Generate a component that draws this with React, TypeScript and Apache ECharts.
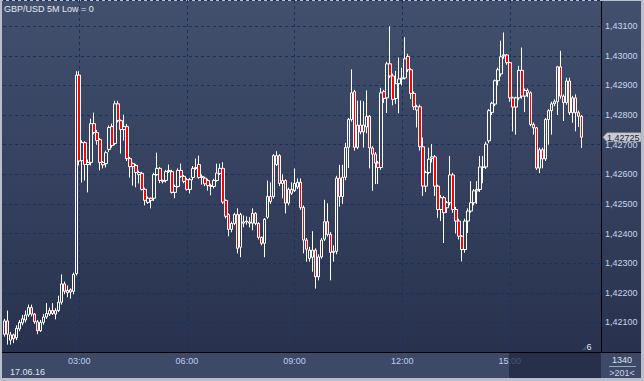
import React, { useEffect, useRef } from 'react';
import * as echarts from 'echarts';

// ---- data (5-minute OHLC, GBP/USD, 17.06.16) ----
const openPrices = [
  1.42060, 1.42105, 1.42040, 1.42058, 1.42048, 1.42078, 1.42098, 1.42108, 1.42125, 1.42150,
  1.42128, 1.42102, 1.42072, 1.42100, 1.42118, 1.42128, 1.42140, 1.42128, 1.42140, 1.42168,
  1.42230, 1.42200, 1.42210, 1.42205, 1.42265, 1.42935, 1.42646, 1.42707, 1.42633, 1.42640,
  1.42771, 1.42741, 1.42717, 1.42640, 1.42636, 1.42684, 1.42761, 1.42704, 1.42838, 1.42781,
  1.42751, 1.42761, 1.42653, 1.42636, 1.42630, 1.42599, 1.42603, 1.42549, 1.42505, 1.42519,
  1.42519, 1.42599, 1.42620, 1.42579, 1.42579, 1.42609, 1.42609, 1.42539, 1.42559, 1.42613,
  1.42593, 1.42582, 1.42549, 1.42589, 1.42620, 1.42633, 1.42589, 1.42587, 1.42579, 1.42559,
  1.42559, 1.42579, 1.42603, 1.42620, 1.42512, 1.42464, 1.42414, 1.42434, 1.42464, 1.42354,
  1.42435, 1.42439, 1.42439, 1.42435, 1.42468, 1.42434, 1.42387, 1.42367, 1.42455, 1.42525,
  1.42525, 1.42633, 1.42663, 1.42569, 1.42579, 1.42503, 1.42549, 1.42545, 1.42557, 1.42573,
  1.42488, 1.42378, 1.42316, 1.42320, 1.42344, 1.42254, 1.42321, 1.42381, 1.42440, 1.42397,
  1.42336, 1.42340, 1.42587, 1.42525, 1.42590, 1.42691, 1.42785, 1.42879, 1.42691, 1.42766,
  1.42743, 1.42760, 1.42796, 1.42689, 1.42668, 1.42638, 1.42623, 1.42879, 1.42858, 1.42973,
  1.42932, 1.42856, 1.42906, 1.42922, 1.42925, 1.42998, 1.42953, 1.42873, 1.42817, 1.42828,
  1.42693, 1.42560, 1.42606, 1.42654, 1.42659, 1.42560, 1.42481, 1.42521, 1.42487, 1.42504,
  1.42598, 1.42481, 1.42442, 1.42391, 1.42346, 1.42442, 1.42476, 1.42504, 1.42544, 1.42549,
  1.42623, 1.42625, 1.42713, 1.42809, 1.42837, 1.42916, 1.42939, 1.43003, 1.43003, 1.42977,
  1.42858, 1.42827, 1.42858, 1.42951, 1.42864, 1.42883, 1.42875, 1.42768, 1.42757, 1.42621,
  1.42683, 1.42652, 1.42785, 1.42815, 1.42838, 1.42845, 1.42963, 1.42864, 1.42842, 1.42915,
  1.42808, 1.42858, 1.42808, 1.42796,
];
const closePrices = [
  1.42105, 1.42060, 1.42058, 1.42045, 1.42080, 1.42100, 1.42112, 1.42125, 1.42150, 1.42128,
  1.42102, 1.42072, 1.42100, 1.42118, 1.42130, 1.42140, 1.42130, 1.42140, 1.42168, 1.42230,
  1.42205, 1.42208, 1.42202, 1.42262, 1.42935, 1.42645, 1.42707, 1.42633, 1.42640, 1.42771,
  1.42741, 1.42714, 1.42640, 1.42632, 1.42673, 1.42758, 1.42697, 1.42838, 1.42781, 1.42751,
  1.42761, 1.42653, 1.42626, 1.42626, 1.42606, 1.42606, 1.42549, 1.42512, 1.42519, 1.42512,
  1.42599, 1.42620, 1.42579, 1.42576, 1.42609, 1.42613, 1.42539, 1.42559, 1.42613, 1.42593,
  1.42576, 1.42549, 1.42582, 1.42620, 1.42623, 1.42589, 1.42593, 1.42568, 1.42562, 1.42562,
  1.42579, 1.42604, 1.42620, 1.42506, 1.42458, 1.42414, 1.42434, 1.42464, 1.42350, 1.42464,
  1.42439, 1.42442, 1.42435, 1.42468, 1.42434, 1.42387, 1.42367, 1.42448, 1.42525, 1.42508,
  1.42663, 1.42663, 1.42569, 1.42579, 1.42503, 1.42549, 1.42536, 1.42569, 1.42573, 1.42488,
  1.42378, 1.42347, 1.42344, 1.42344, 1.42254, 1.42321, 1.42378, 1.42440, 1.42397, 1.42336,
  1.42340, 1.42587, 1.42525, 1.42590, 1.42691, 1.42785, 1.42875, 1.42691, 1.42766, 1.42743,
  1.42766, 1.42796, 1.42689, 1.42668, 1.42638, 1.42623, 1.42875, 1.42856, 1.42973, 1.42932,
  1.42853, 1.42906, 1.42922, 1.42925, 1.42990, 1.42953, 1.42873, 1.42828, 1.42828, 1.42693,
  1.42560, 1.42606, 1.42651, 1.42659, 1.42560, 1.42481, 1.42521, 1.42470, 1.42504, 1.42598,
  1.42481, 1.42442, 1.42391, 1.42346, 1.42442, 1.42476, 1.42504, 1.42544, 1.42549, 1.42625,
  1.42625, 1.42702, 1.42815, 1.42840, 1.42916, 1.42953, 1.42997, 1.43000, 1.42977, 1.42858,
  1.42827, 1.42858, 1.42951, 1.42864, 1.42883, 1.42875, 1.42768, 1.42757, 1.42621, 1.42683,
  1.42652, 1.42785, 1.42815, 1.42838, 1.42845, 1.42963, 1.42864, 1.42842, 1.42915, 1.42808,
  1.42858, 1.42808, 1.42796, 1.42725,
];
const lowPrices = [
  1.42052, 1.42025, 1.42025, 1.42030, 1.42040, 1.42070, 1.42090, 1.42100, 1.42118, 1.42120,
  1.42095, 1.42060, 1.42068, 1.42092, 1.42112, 1.42122, 1.42125, 1.42110, 1.42135, 1.42160,
  1.42195, 1.42185, 1.42180, 1.42195, 1.42258, 1.42630, 1.42572, 1.42579, 1.42539, 1.42630,
  1.42735, 1.42700, 1.42613, 1.42620, 1.42623, 1.42675, 1.42690, 1.42698, 1.42775, 1.42670,
  1.42714, 1.42645, 1.42589, 1.42562, 1.42556, 1.42569, 1.42545, 1.42495, 1.42500, 1.42485,
  1.42510, 1.42595, 1.42570, 1.42569, 1.42572, 1.42605, 1.42535, 1.42519, 1.42555, 1.42588,
  1.42570, 1.42545, 1.42535, 1.42580, 1.42615, 1.42585, 1.42565, 1.42560, 1.42545, 1.42529,
  1.42552, 1.42575, 1.42598, 1.42500, 1.42451, 1.42391, 1.42404, 1.42428, 1.42333, 1.42320,
  1.42421, 1.42430, 1.42421, 1.42411, 1.42428, 1.42380, 1.42360, 1.42320, 1.42450, 1.42500,
  1.42518, 1.42628, 1.42560, 1.42519, 1.42468, 1.42495, 1.42530, 1.42540, 1.42550, 1.42480,
  1.42333, 1.42305, 1.42305, 1.42271, 1.42214, 1.42242, 1.42315, 1.42375, 1.42390, 1.42242,
  1.42305, 1.42330, 1.42491, 1.42500, 1.42580, 1.42621, 1.42778, 1.42680, 1.42685, 1.42735,
  1.42690, 1.42738, 1.42620, 1.42544, 1.42567, 1.42567, 1.42615, 1.42841, 1.42807, 1.42925,
  1.42833, 1.42838, 1.42806, 1.42900, 1.42920, 1.42945, 1.42854, 1.42817, 1.42758, 1.42680,
  1.42527, 1.42540, 1.42600, 1.42640, 1.42527, 1.42453, 1.42442, 1.42368, 1.42470, 1.42495,
  1.42470, 1.42400, 1.42380, 1.42306, 1.42335, 1.42402, 1.42470, 1.42495, 1.42500, 1.42540,
  1.42570, 1.42618, 1.42705, 1.42800, 1.42830, 1.42900, 1.42930, 1.42990, 1.42970, 1.42845,
  1.42745, 1.42734, 1.42850, 1.42855, 1.42810, 1.42860, 1.42762, 1.42734, 1.42615, 1.42604,
  1.42620, 1.42645, 1.42700, 1.42734, 1.42830, 1.42800, 1.42855, 1.42780, 1.42835, 1.42800,
  1.42774, 1.42745, 1.42760, 1.42689,
];
const highPrices = [
  1.42112, 1.42140, 1.42068, 1.42062, 1.42090, 1.42108, 1.42125, 1.42140, 1.42160, 1.42160,
  1.42132, 1.42108, 1.42108, 1.42128, 1.42165, 1.42150, 1.42165, 1.42148, 1.42190, 1.42262,
  1.42238, 1.42225, 1.42215, 1.42268, 1.42948, 1.42948, 1.42715, 1.42712, 1.42650, 1.42788,
  1.42808, 1.42750, 1.42722, 1.42645, 1.42680, 1.42765, 1.42771, 1.42848, 1.42848, 1.42785,
  1.42801, 1.42770, 1.42658, 1.42640, 1.42635, 1.42612, 1.42608, 1.42555, 1.42525, 1.42522,
  1.42605, 1.42673, 1.42625, 1.42582, 1.42615, 1.42633, 1.42615, 1.42565, 1.42620, 1.42636,
  1.42598, 1.42588, 1.42588, 1.42628, 1.42653, 1.42663, 1.42600, 1.42592, 1.42585, 1.42568,
  1.42585, 1.42636, 1.42636, 1.42641, 1.42515, 1.42468, 1.42440, 1.42470, 1.42485, 1.42470,
  1.42461, 1.42458, 1.42455, 1.42485, 1.42472, 1.42438, 1.42390, 1.42452, 1.42579, 1.42573,
  1.42668, 1.42678, 1.42668, 1.42600, 1.42583, 1.42555, 1.42573, 1.42620, 1.42586, 1.42586,
  1.42495, 1.42385, 1.42355, 1.42408, 1.42350, 1.42330, 1.42385, 1.42514, 1.42502, 1.42405,
  1.42360, 1.42595, 1.42632, 1.42632, 1.42706, 1.42790, 1.42954, 1.42885, 1.42849, 1.42849,
  1.42847, 1.42883, 1.42800, 1.42695, 1.42675, 1.42645, 1.42892, 1.42885, 1.42980, 1.43100,
  1.42940, 1.42949, 1.42994, 1.42960, 1.43063, 1.43007, 1.42958, 1.42880, 1.42835, 1.42835,
  1.42724, 1.42612, 1.42690, 1.42702, 1.42665, 1.42565, 1.42530, 1.42527, 1.42510, 1.42662,
  1.42605, 1.42490, 1.42450, 1.42395, 1.42450, 1.42485, 1.42577, 1.42550, 1.42577, 1.42662,
  1.42662, 1.42710, 1.42820, 1.42845, 1.42920, 1.42960, 1.43051, 1.43079, 1.43006, 1.42980,
  1.42862, 1.42862, 1.42966, 1.43028, 1.42890, 1.42890, 1.42880, 1.42775, 1.42760, 1.42690,
  1.42690, 1.42790, 1.42820, 1.42845, 1.42853, 1.42966, 1.43017, 1.42870, 1.42926, 1.42926,
  1.42865, 1.42870, 1.42815, 1.42800,
];

// category slots: 5-minute bars, first at 00:55, 200 slots across the plot
const firstSlotMinutes = 55;
const slotMinutes = 5;
const slotCount = 200;
const timeTickLabels = ['03:00', '06:00', '09:00', '12:00', '15:00'];
const yMin = 1.42;
const yMax = 1.431885;
const yInterval = 0.001;

const titleText = 'GBP/USD 5M Low = 0';
const dateText = '17.06.16';
const barsText = '1340';
const windowText = '>201<';
const cornerText = '6';

const W = 644;
const H = 381;
const FONT = '"Liberation Sans", Arial, sans-serif';

function buildCategories(): string[] {
  const out: string[] = [];
  for (let i = 0; i < slotCount; i++) {
    const m = firstSlotMinutes + i * slotMinutes;
    const hh = Math.floor(m / 60) % 24;
    const mm = m % 60;
    out.push(String(hh).padStart(2, '0') + ':' + String(mm).padStart(2, '0'));
  }
  return out;
}

const fmtPrice = (v: number) => v.toFixed(5).replace('.', ',');

export default function App() {
  const ref = useRef<HTMLDivElement>(null);

  useEffect(() => {
    const el = ref.current;
    if (!el) return;
    const chart = echarts.init(el, null, { renderer: 'svg', width: W, height: H });
    const categories = buildCategories();
    const candles = openPrices.map((o, i) => [o, closePrices[i], lowPrices[i], highPrices[i]]);

    const gridLeft = 3;
    const gridTop = -1;
    const gridWidth = 598;
    const gridHeight = 353;
    const gridRight = gridLeft + gridWidth;
    const gridBottom = gridTop + gridHeight;

    const gridLine = { color: '#17325e', type: [3, 3] as number[], width: 1 };

    chart.setOption({
      animation: false,
      backgroundColor: '#b9c0cb',
      grid: { left: gridLeft, top: gridTop, width: gridWidth, height: gridHeight, show: false },
      xAxis: {
        type: 'category',
        data: categories,
        boundaryGap: true,
        axisLine: { show: false },
        axisTick: { show: false },
        splitLine: {
          show: true,
          alignWithLabel: true,
          interval: (_i: number, v: string) => timeTickLabels.includes(v),
          lineStyle: gridLine,
        },
        axisLabel: {
          interval: (_i: number, v: string) => timeTickLabels.includes(v),
          color: '#bccff0',
          fontSize: 9,
          fontFamily: FONT,
          margin: 4,
        },
      },
      yAxis: {
        type: 'value',
        position: 'right',
        min: yMin,
        max: yMax,
        interval: yInterval,
        scale: true,
        axisLine: { show: false },
        axisTick: { show: false },
        splitLine: { show: true, lineStyle: gridLine },
        axisLabel: {
          showMinLabel: false,
          showMaxLabel: false,
          formatter: (v: number) => fmtPrice(v),
          color: '#c9d6ee',
          fontSize: 9,
          fontFamily: FONT,
          margin: 4,
        },
      },
      series: [
        {
          type: 'candlestick',
          data: candles,
          barWidth: 3,
          z: 2,
          itemStyle: {
            color: 'rgba(0,0,0,0)',
            color0: '#ff0000',
            borderColor: '#ffffff',
            borderColor0: '#ffffff',
            borderWidth: 1,
          },
          emphasis: { disabled: true },
        },
      ],
    });

    const lastClose = closePrices[closePrices.length - 1];
    const tagY = chart.convertToPixel({ yAxisIndex: 0 }, lastClose) as number;

    const graphic: any[] = [
      // main panel (plot + right axis) with vertical gradient
      {
        type: 'rect', z: -10, silent: true,
        shape: { x: 2, y: 1, width: 639, height: gridBottom - 1 },
        style: {
          fill: new echarts.graphic.LinearGradient(0, 0, 0, 1, [
            { offset: 0, color: '#42506d' },
            { offset: 1, color: '#28324f' },
          ]),
        },
      },
      // time axis row
      {
        type: 'rect', z: -10, silent: true,
        shape: { x: 2, y: gridBottom + 1, width: 639, height: H - 3 - gridBottom - 1 },
        style: { fill: '#3d4966' },
      },
      // black separators
      {
        type: 'line', z: 50, silent: true,
        shape: { x1: 2, y1: gridBottom + 0.5, x2: 641, y2: gridBottom + 0.5 },
        style: { stroke: '#000000', lineWidth: 1 },
      },
      {
        type: 'line', z: 50, silent: true,
        shape: { x1: gridRight + 0.5, y1: 1, x2: gridRight + 0.5, y2: gridBottom + 0.5 },
        style: { stroke: '#000000', lineWidth: 1 },
      },
      // navigator box in the time row
      {
        type: 'rect', z: 60, silent: true,
        shape: { x: 509, y: gridBottom + 1, width: gridRight - 509, height: H - 3 - gridBottom - 1 },
        style: { fill: 'rgba(30,38,64,0.72)' },
      },
      // title
      {
        type: 'text', z: 60, silent: true, x: 4, y: 8.5,
        style: { text: titleText, fill: '#e4e9f2', font: `9px ${FONT}`, textVerticalAlign: 'middle' },
      },
      // date
      {
        type: 'text', z: 60, silent: true, x: 10, y: 371.5,
        style: { text: dateText, fill: '#dde4ef', font: `9px ${FONT}`, textVerticalAlign: 'middle' },
      },
      // bottom-right box texts
      {
        type: 'text', z: 60, silent: true, x: 622, y: 359.7,
        style: { text: barsText, fill: '#dbe2ee', font: `9px ${FONT}`, textAlign: 'center', textVerticalAlign: 'middle' },
      },
      {
        type: 'line', z: 60, silent: true,
        shape: { x1: 609, y1: 366.5, x2: 636, y2: 366.5 },
        style: { stroke: '#9aa6bb', lineWidth: 1 },
      },
      {
        type: 'text', z: 60, silent: true, x: 622, y: 372.7,
        style: { text: windowText, fill: '#cbd6ea', font: `9px ${FONT}`, textAlign: 'center', textVerticalAlign: 'middle' },
      },
      // corner marker
      {
        type: 'polygon', z: 60, silent: true,
        shape: { points: [[582, 350], [586, 346], [586, 350]] },
        style: { fill: '#4a5163' },
      },
      {
        type: 'text', z: 60, silent: true, x: 586.5, y: 347,
        style: { text: cornerText, fill: '#e2e8f2', font: `9px ${FONT}`, textVerticalAlign: 'middle' },
      },
      // current price tag
      {
        type: 'group', z: 70, x: 0, y: tagY,
        children: [
          {
            type: 'polygon', z: 70, silent: true,
            shape: { points: [[gridRight + 2, 0], [gridRight + 6, -4.5], [641, -4.5], [641, 4.5], [gridRight + 6, 4.5]] },
            style: { fill: '#c8cdd5', stroke: '#8e97a6', lineWidth: 0.5 },
          },
          {
            type: 'text', z: 71, silent: true, x: gridRight + 6, y: 0.3,
            style: { text: fmtPrice(lastClose), fill: '#1c1f26', font: `9px ${FONT}`, textVerticalAlign: 'middle' },
          },
        ],
      },
    ];

    chart.setOption({ graphic });

    return () => chart.dispose();
  }, []);

  return (
    <div
      ref={ref}
      style={{ position: 'fixed', left: 0, top: 0, width: W, height: H }}
    />
  );
}
